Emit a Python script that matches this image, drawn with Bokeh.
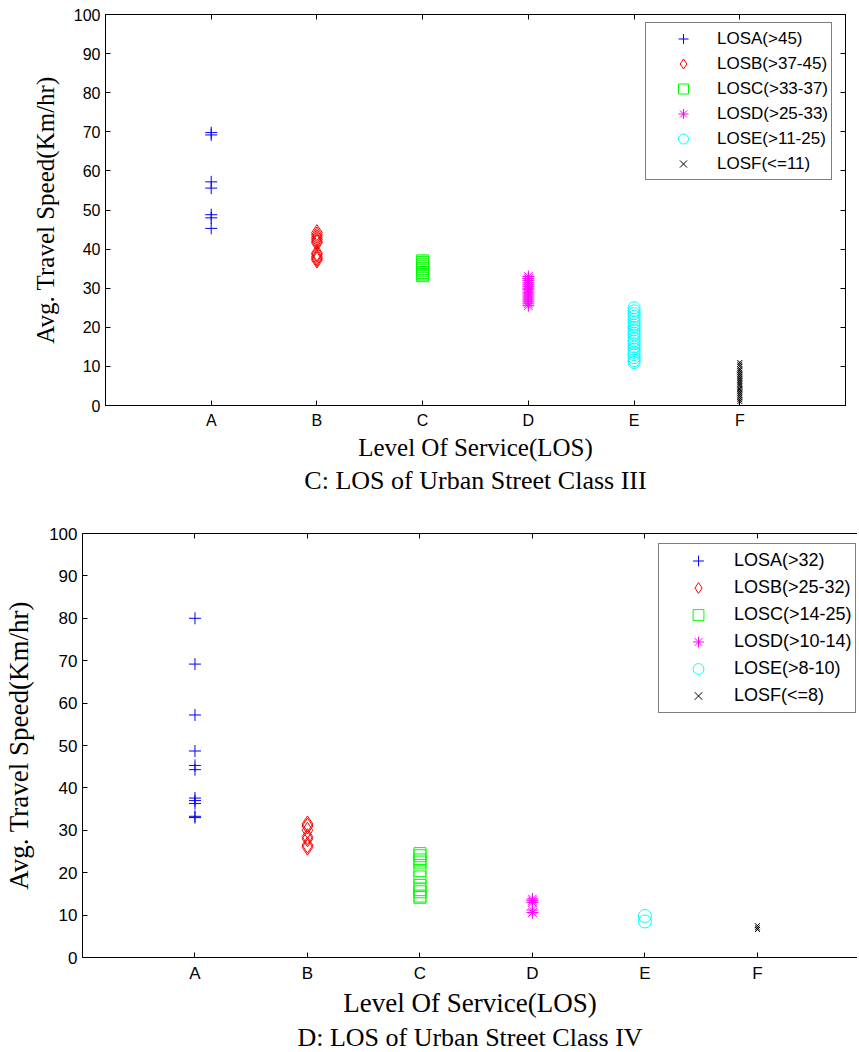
from bokeh.plotting import figure
from bokeh.models import (Range1d, FixedTicker, LinearAxis, Legend, LegendItem, Title)
from bokeh.embed import file_html
from bokeh.resources import INLINE

# ---------------- data ----------------
categories = ["A", "B", "C", "D", "E", "F"]
cat_pos = [1, 2, 3, 4, 5, 6]
y_ticks = [0, 10, 20, 30, 40, 50, 60, 70, 80, 90, 100]

# Chart C: Urban Street Class III
c3_labels = ["LOSA(>45)", "LOSB(>37-45)", "LOSC(>33-37)", "LOSD(>25-33)", "LOSE(>11-25)", "LOSF(<=11)"]
c3_A = [69.8, 69.2, 57.2, 55.6, 48.8, 48.0, 45.3]
c3_B = [44.2, 43.6, 43.0, 42.5, 42.0, 41.6, 39.0, 38.6, 38.0, 37.6, 37.2]
c3_C = [37.0, 36.6, 36.0, 35.6, 35.0, 34.6, 34.0, 33.6, 33.2]
c3_D = [33.0, 32.5, 32.0, 31.4, 31.0, 30.5, 30.0, 29.6, 29.0, 28.5, 28.0, 27.5, 27.0, 26.5, 26.0, 25.5]
c3_E = [25.0, 24.2, 23.5, 22.8, 22.0, 21.4, 20.6, 20.0, 19.3, 18.5, 18.0, 17.2, 16.5, 15.8,
        15.0, 14.4, 13.6, 13.0, 12.2, 11.5, 11.0]
c3_F = [11.0, 10.5, 10.0, 9.4, 9.0, 8.5, 8.0, 7.5, 7.0, 6.5, 6.0, 5.5, 5.0, 4.4, 4.0, 3.5,
        3.0, 2.5, 2.0, 1.5, 1.0]

# Chart D: Urban Street Class IV
c4_labels = ["LOSA(>32)", "LOSB(>25-32)", "LOSC(>14-25)", "LOSD(>10-14)", "LOSE(>8-10)", "LOSF(<=8)"]
c4_A = [80.0, 69.2, 57.2, 48.7, 45.3, 44.3, 37.6, 37.0, 36.3, 33.3, 33.0]
c4_B = [31.5, 31.0, 30.0, 28.5, 28.0, 26.5, 26.0]
c4_C = [24.5, 24.0, 23.0, 22.5, 20.5, 19.0, 17.0, 16.0, 15.5, 14.5, 14.2]
c4_D = [13.8, 13.4, 13.0, 11.2, 10.6]
c4_E = [9.8, 8.5]
c4_F = [7.5, 7.0, 6.6]

colors = ["#0000ff", "#ff0000", "#00ff00", "#ff00ff", "#00ffff", "#000000"]
markers = ["cross", "diamond", "square", "asterisk", "circle", "x"]

SANS = "Liberation Sans"
SERIF = "Liberation Serif"


def hidden_axis(ticker):
    return LinearAxis(ticker=ticker, major_tick_in=5, major_tick_out=0,
                      major_label_text_font_size="1px", major_label_text_color=None,
                      major_label_standoff=0, minor_tick_line_color=None,
                      axis_line_color="black", major_tick_line_color="black")


def make_chart(series, labels, caption, frame_w, frame_h, x_end, min_left, min_top,
               right_axis, tick_fs, label_fs, cap_fs, leg_fs, leg_loc,
               leg_glyph_w, leg_row_h, sizes, ylabel_standoff):
    p = figure(frame_width=frame_w, frame_height=frame_h, output_backend="svg",
               toolbar_location=None, x_range=Range1d(0, x_end), y_range=Range1d(0, 100),
               min_border_left=min_left, min_border_top=min_top, min_border_bottom=0,
               min_border_right=6 if right_axis else 0)
    p.xgrid.visible = False
    p.ygrid.visible = False
    p.outline_line_color = "black" if right_axis else None
    p.outline_line_width = 1

    xt = FixedTicker(ticks=cat_pos)
    yt = FixedTicker(ticks=y_ticks)
    overrides = {pos: cat for pos, cat in zip(cat_pos, categories)}

    for ax in p.xaxis:
        ax.ticker = xt
        ax.major_label_overrides = overrides
    for ax in p.yaxis:
        ax.ticker = yt
    for ax in list(p.xaxis) + list(p.yaxis):
        ax.major_tick_in = 5
        ax.major_tick_out = 0
        ax.minor_tick_line_color = None
        ax.axis_line_color = "black"
        ax.major_tick_line_color = "black"
        ax.major_label_text_font = SANS
        ax.major_label_text_font_size = tick_fs
        ax.major_label_text_color = "black"
        ax.axis_label_text_font = SERIF
        ax.axis_label_text_font_size = label_fs
        ax.axis_label_text_font_style = "normal"
        ax.axis_label_text_color = "black"
    p.xaxis.major_label_standoff = 6
    p.yaxis.major_label_standoff = 5
    p.xaxis.axis_label = "Level Of Service(LOS)"
    p.yaxis.axis_label = "Avg. Travel Speed(Km/hr)"
    p.xaxis.axis_label_standoff = 2
    p.yaxis.axis_label_standoff = ylabel_standoff

    p.add_layout(hidden_axis(xt), "above")
    if right_axis:
        p.add_layout(hidden_axis(yt), "right")

    items = []
    for i, vals in enumerate(series):
        xs = [cat_pos[i]] * len(vals)
        r = p.scatter(xs, vals, marker=markers[i], size=sizes[i], line_color=colors[i],
                      fill_color=colors[i], fill_alpha=0, line_width=1)
        items.append(LegendItem(label=labels[i], renderers=[r]))

    leg = Legend(items=items, location=leg_loc, margin=0, padding=3,
                 border_line_color="black", border_line_width=1,
                 background_fill_color="white", background_fill_alpha=1,
                 label_text_font=SANS, label_text_font_size=leg_fs,
                 label_text_color="black", glyph_width=leg_glyph_w, glyph_height=leg_row_h,
                 label_height=leg_row_h, spacing=0, label_standoff=0)
    p.add_layout(leg, "center")

    p.add_layout(Title(text=caption, align="center", text_font=SERIF,
                       text_font_size=cap_fs, text_font_style="normal",
                       text_color="black", standoff=0), "below")
    return p


p1 = make_chart([c3_A, c3_B, c3_C, c3_D, c3_E, c3_F], c3_labels,
                "C: LOS of Urban Street Class III",
                frame_w=740, frame_h=391, x_end=7, min_left=105, min_top=14,
                right_axis=True, tick_fs="16px", label_fs="25px", cap_fs="26px",
                leg_fs="17px", leg_loc=(540, 225), leg_glyph_w=68, leg_row_h=25,
                sizes=[12, 16, 12, 12, 12, 7], ylabel_standoff=12)

p2 = make_chart([c4_A, c4_B, c4_C, c4_D, c4_E, c4_F], c4_labels,
                "D: LOS of Urban Street Class IV",
                frame_w=775, frame_h=424, x_end=6.89, min_left=82, min_top=39,
                right_axis=False, tick_fs="17px", label_fs="27px", cap_fs="26px",
                leg_fs="18px", leg_loc=(576, 244), leg_glyph_w=72, leg_row_h=27,
                sizes=[12, 16, 12, 12, 13, 7], ylabel_standoff=12)

open("out.html", "w").write(file_html([p1, p2], INLINE))
